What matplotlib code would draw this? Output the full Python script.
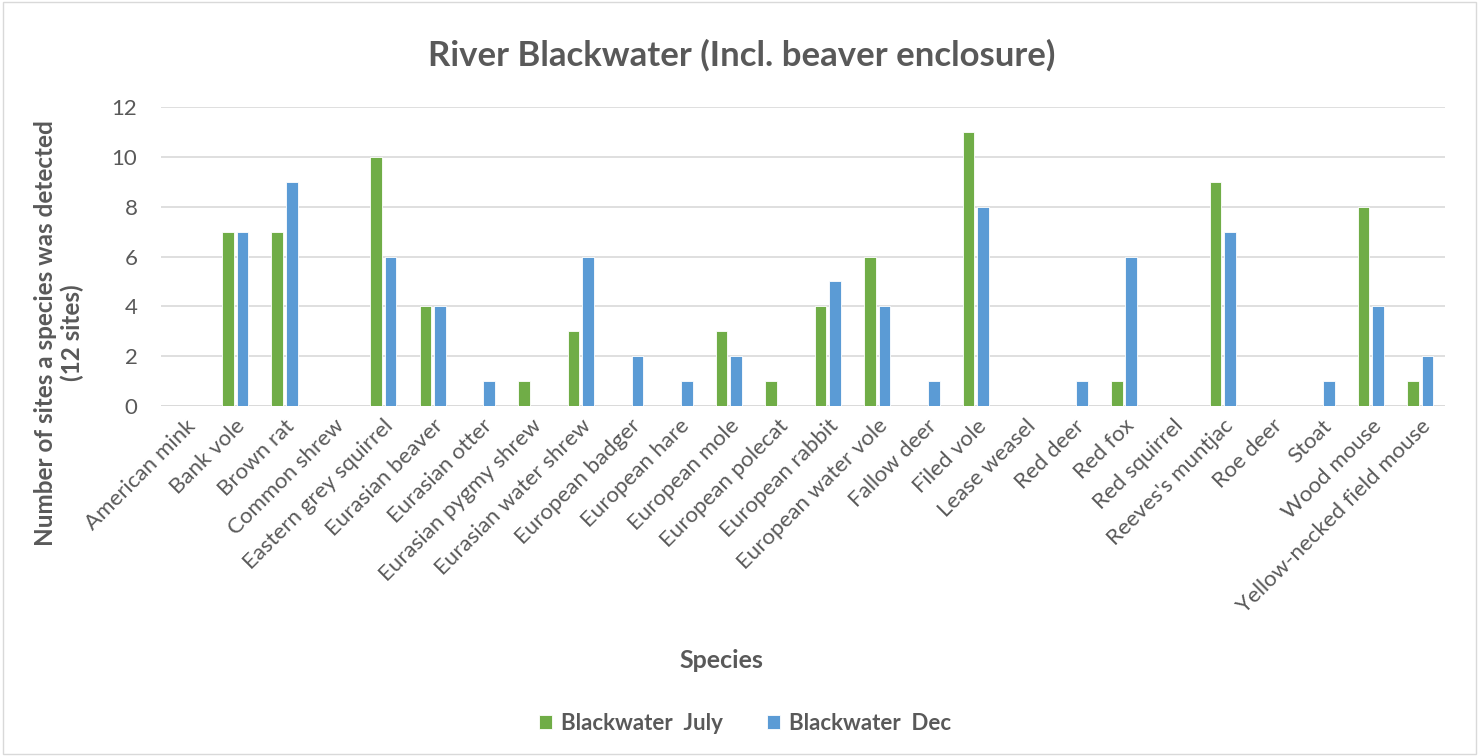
import numpy as np
import matplotlib.pyplot as plt

species = ['American mink', 'Bank vole', 'Brown rat', 'Common shrew',
           'Eastern grey squirrel', 'Eurasian beaver', 'Eurasian otter',
           'Eurasian pygmy shrew', 'Eurasian water shrew', 'European badger',
           'European hare', 'European mole', 'European polecat',
           'European rabbit', 'European water vole', 'Fallow deer',
           'Filed vole', 'Lease weasel', 'Red deer', 'Red fox',
           'Red squirrel', "Reeves's muntjac", 'Roe deer', 'Stoat',
           'Wood mouse', 'Yellow-necked field mouse']
july = [0, 7, 7, 0, 10, 4, 0, 1, 3, 0, 0, 3, 1, 4, 6, 0, 11, 0, 0, 1, 0, 9, 0, 0, 8, 1]
dec = [0, 7, 9, 0, 6, 4, 1, 0, 6, 2, 1, 2, 0, 5, 4, 1, 8, 0, 1, 6, 0, 7, 0, 1, 4, 2]

plt.rcParams['font.family'] = ['Lato', 'DejaVu Sans']
grey = '#595959'
green = '#70AD47'
blue = '#5B9BD5'

fig = plt.figure(figsize=(14.8, 7.56), dpi=100)
ax = fig.add_axes([161 / 1480, 1 - 406 / 756, (1445 - 161) / 1480, (406 - 107) / 756])

x = np.arange(len(species))
w = 0.235
ax.bar(x - w / 2 - 0.03, july, w, color=green, edgecolor='white', linewidth=0.6,
       label='Blackwater  July', zorder=3)
ax.bar(x + w / 2 + 0.03, dec, w, color=blue, edgecolor='white', linewidth=0.6,
       label='Blackwater  Dec', zorder=3)

ax.set_xlim(-0.5, len(species) - 0.5)
ax.set_ylim(0, 12)
ax.set_yticks(range(0, 13, 2))
ax.yaxis.grid(True, color='#D9D9D9', linewidth=1.2, zorder=0)
for s in ax.spines.values():
    s.set_visible(False)
ax.axhline(0, color='#D9D9D9', linewidth=1.2, zorder=1)
ax.tick_params(axis='both', length=0, colors=grey, labelsize=16)
ax.tick_params(axis='y', pad=17)
ax.set_xticks(x)
ax.set_xticklabels(species, rotation=45, ha='right', rotation_mode='anchor')
ax.tick_params(axis='x', pad=7)

fig.text(742 / 1480, 1 - 55 / 756, 'River Blackwater (Incl. beaver enclosure)', ha='center',
         va='center', fontsize=25, fontweight='bold', color=grey)
fig.text(59 / 1480, 1 - 333 / 756, 'Number of sites a species was detected\n(12 sites)',
         rotation=90, ha='center', va='center', fontsize=17.5, fontweight='bold',
         color=grey, linespacing=1.2)
fig.text(721 / 1480, 1 - 660 / 756, 'Species', ha='center', va='center', fontsize=18,
         fontweight='bold', color=grey)

leg = fig.legend(loc='center', bbox_to_anchor=(745 / 1480, 1 - 723 / 756), ncol=2,
                 frameon=False, fontsize=16, handlelength=0.6, handleheight=0.6,
                 columnspacing=2.0, handletextpad=0.4)
for t in leg.get_texts():
    t.set_color(grey)
    t.set_fontweight('bold')

# light outer border
fig.patches.append(plt.Rectangle((0.002, 0.002), 0.995, 0.995, transform=fig.transFigure,
                                 fill=False, edgecolor='#D9D9D9', linewidth=1))

fig.savefig('out.png', dpi=100)
